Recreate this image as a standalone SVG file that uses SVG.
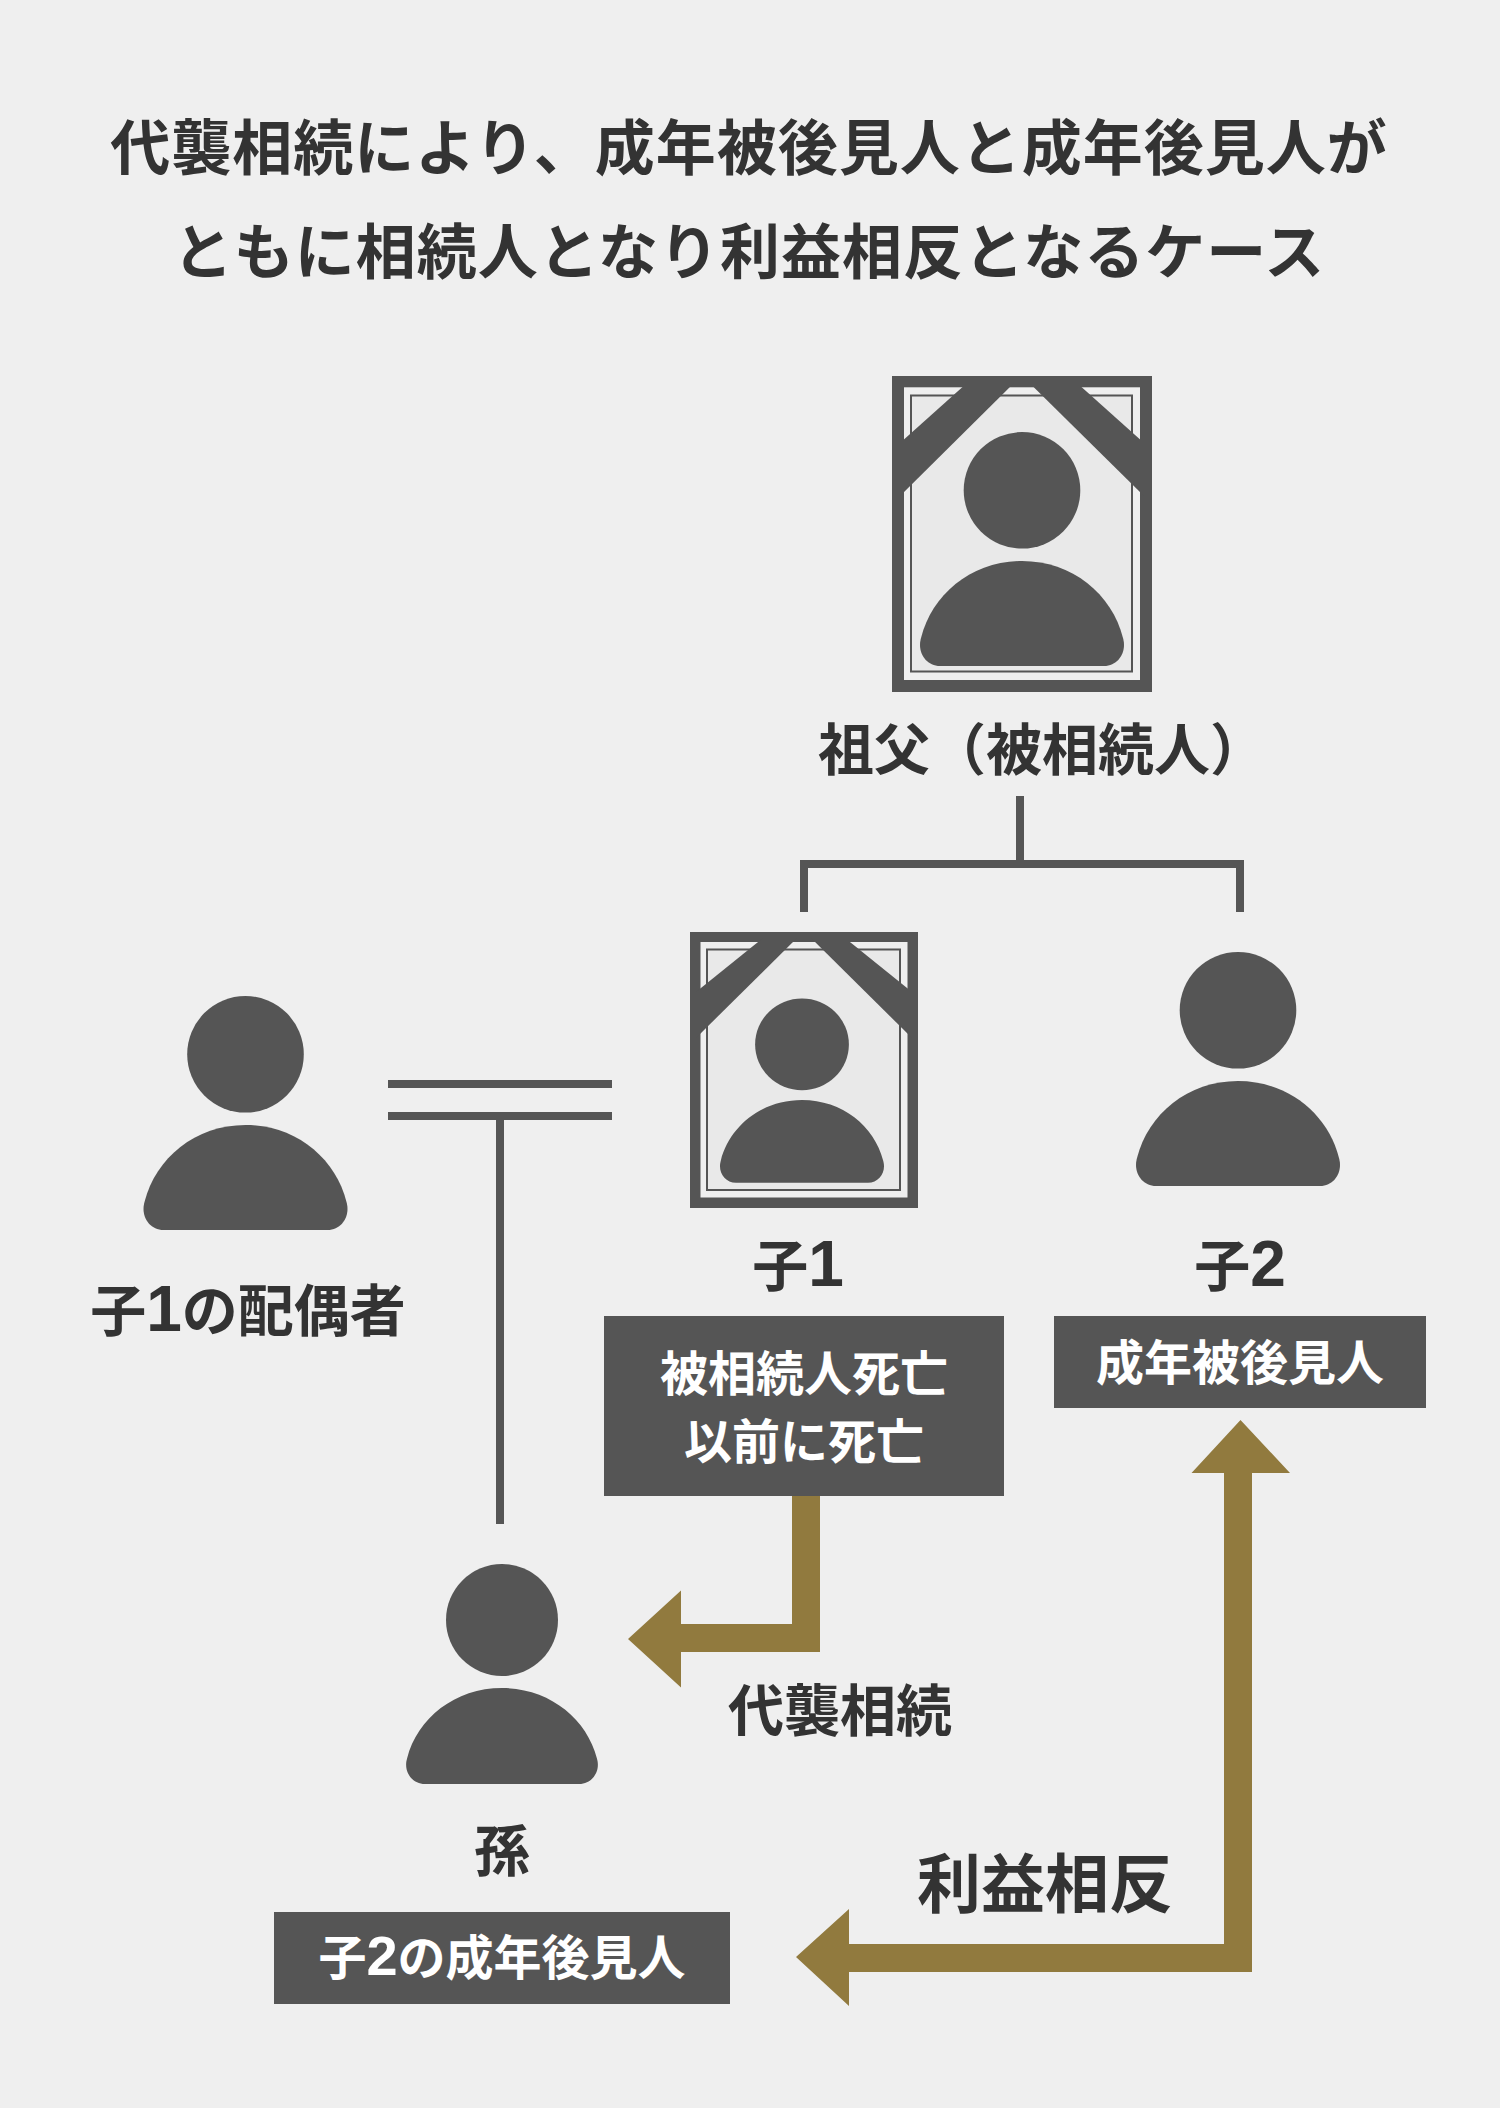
<svg xmlns="http://www.w3.org/2000/svg" xmlns:xlink="http://www.w3.org/1999/xlink" width="1500" height="2108" viewBox="0 0 1500 2108">
<style>
text{font-family:"Noto Sans CJK JP","Noto Sans",sans-serif;font-weight:700;fill:#333;text-anchor:middle}
.w{fill:#fff;font-size:48px}
.l{font-size:56px}
.t{font-size:60px;letter-spacing:1px}
.n{font-family:"Liberation Sans",sans-serif;font-size:64px}
.m{font-family:"Liberation Sans",sans-serif;font-size:56px}
.d{fill:#555}
.gap{fill:#efefef}
.in{fill:#e9e9e9;stroke:#555;stroke-width:2}
.c{fill:none;stroke:#555;stroke-width:8}
.g{fill:#917a3e}
</style>
<defs>
<path id="body" d="M-82,0H82C94,0 102,-10 102,-21C102,-24 101.5,-26 101,-28C90,-72 50,-105 0,-105C-50,-105 -90,-72 -101,-28C-101.5,-26 -102,-24 -102,-21C-102,-10 -94,0 -82,0Z"/>
<g id="person"><circle cx="0" cy="-175.7" r="58.3"/><use href="#body"/></g>
</defs>
<rect width="1500" height="2108" fill="#efefef"/>
<g id="title">
<text class="t" x="749" y="170">代襲相続により、成年被後見人と成年後見人が</text>
<text class="t" x="749" y="274">ともに相続人となり利益相反となるケース</text>
</g>
<g id="connectors">
<path class="c" d="M804,912V864H1240V912M1020,796V864"/>
<path class="c" d="M388,1084H612M388,1116H612M500,1116V1524"/>
<polygon class="g" points="792,1496 820,1496 820,1652 681,1652 681,1687.5 628,1639 681,1590.5 681,1624 792,1624"/>
<polygon class="g" points="1224,1473 1191.5,1473 1240.5,1420 1290,1473 1252,1473 1252,1972 849,1972 849,2006 796,1957 849,1909 849,1944 1224,1944"/>
</g>
<g id="grandfather">
<rect class="d" x="892" y="376" width="260" height="316"/>
<rect class="gap" x="904" y="387.3" width="236" height="292.7"/>
<rect class="in" x="911" y="395.5" width="221" height="276"/>
<polygon class="d" points="900,443 967,383 1014,383 900,496"/>
<polygon class="d" points="1144,443 1077,383 1029.5,383 1144,496"/>
<use class="d" href="#person" transform="translate(1022,666)"/>
<text class="l" x="1042" y="770">祖父（被相続人）</text>
</g>
<g id="child1">
<rect class="d" x="690" y="932" width="228" height="276"/>
<rect class="gap" x="700.5" y="942" width="207" height="255.5"/>
<rect class="in" x="707" y="949.5" width="193" height="240.5"/>
<polygon class="d" points="696,992 763,938 797,938 696,1038"/>
<polygon class="d" points="912,992 845,938 811,938 912,1038"/>
<use class="d" href="#person" transform="translate(802,1182.7) scale(.804,.787)"/>
<text class="l" x="798" y="1286">子<tspan class="n">1</tspan></text>
<rect class="d" x="604" y="1316" width="400" height="180"/>
<text class="w" x="804" y="1391">被相続人死亡</text>
<text class="w" x="804" y="1459">以前に死亡</text>
</g>
<g id="child2">
<use class="d" href="#person" transform="translate(1238,1186)"/>
<text class="l" x="1240" y="1286">子<tspan class="n">2</tspan></text>
<rect class="d" x="1054" y="1316" width="372" height="92"/>
<text class="w" x="1240" y="1380">成年被後見人</text>
</g>
<g id="spouse">
<use class="d" href="#person" transform="translate(245.5,1230)"/>
<text class="l" x="248" y="1331">子<tspan class="n">1</tspan>の配偶者</text>
</g>
<g id="grandchild">
<circle class="d" cx="502" cy="1620" r="56"/>
<use class="d" href="#body" transform="translate(502,1784) scale(.94,.914)"/>
<text class="l" x="502" y="1871">孫</text>
<rect class="d" x="274" y="1912" width="456" height="92"/>
<text class="w" x="502" y="1975">子<tspan class="m">2</tspan>の成年後見人</text>
</g>
<g id="labels">
<text class="l" x="840" y="1731">代襲相続</text>
<text class="l" style="font-size:64px" x="1045" y="1907">利益相反</text>
</g>
</svg>
